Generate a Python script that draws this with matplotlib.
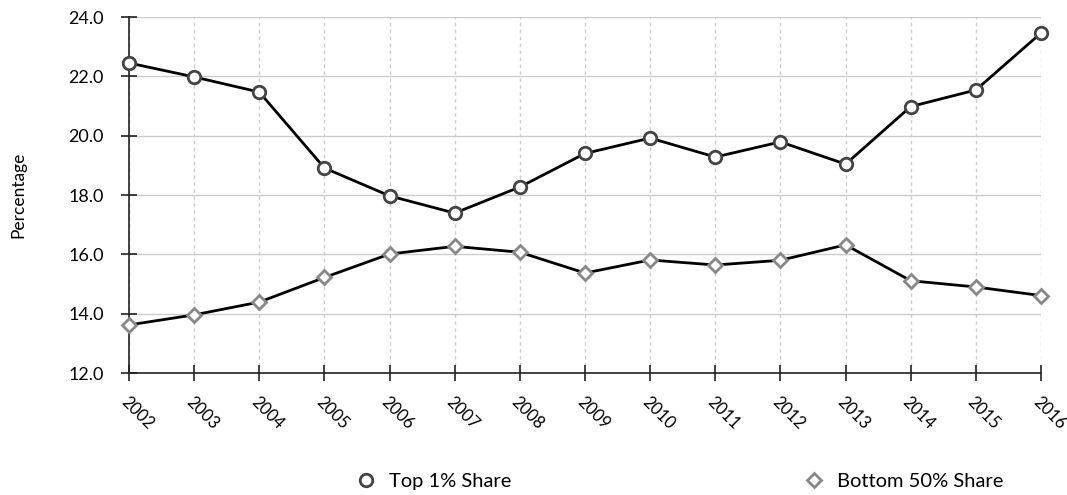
import matplotlib
matplotlib.use("Agg")
import matplotlib.pyplot as plt

years = [2002, 2003, 2004, 2005, 2006, 2007, 2008, 2009, 2010, 2011, 2012, 2013, 2014, 2015, 2016]
top1 = [22.45, 21.98, 21.47, 18.91, 17.97, 17.39, 18.27, 19.40, 19.92, 19.28, 19.79, 19.04, 20.98, 21.54, 23.46]
bottom50 = [13.62, 13.96, 14.39, 15.22, 16.01, 16.27, 16.07, 15.37, 15.81, 15.64, 15.80, 16.32, 15.11, 14.90, 14.61]
yticks = [12, 14, 16, 18, 20, 22, 24]

plt.rcParams['font.family'] = ['Lato', 'DejaVu Sans']

fig = plt.figure(figsize=(10.67, 4.95), dpi=100)
ax = fig.add_axes([129 / 1067, 1 - 373 / 495, (1041 - 129) / 1067, (373 - 17) / 495])

ax.plot(years, top1, color='black', lw=2, marker='o', ms=9, mfc='white',
        mec='#444444', mew=2, label='Top 1% Share', zorder=3, clip_on=False)
ax.plot(years, bottom50, color='black', lw=2, marker='D', ms=7, mfc='white',
        mec='#888888', mew=2, label='Bottom 50% Share', zorder=3, clip_on=False)

ax.set_xlim(2002, 2016)
ax.set_ylim(12, 24)
ax.set_xticks(years)
ax.set_xticklabels([str(y) for y in years], rotation=-45, ha='left', rotation_mode='anchor', fontsize=12)
ax.set_yticks(yticks)
ax.set_yticklabels(['%.1f' % v for v in yticks], fontsize=13)
ax.tick_params(axis='both', direction='inout', length=12, width=1.2, color='#222222')
ax.tick_params(axis='y', pad=12)
ax.tick_params(axis='x', pad=9)

ax.grid(axis='y', color='#cccccc', lw=1)
ax.grid(axis='x', color='#cccccc', lw=1, ls=(0, (2.5, 2.5)))
ax.set_axisbelow(True)
for s in ['top', 'right']:
    ax.spines[s].set_visible(False)
ax.spines['left'].set_color('#222222')
ax.spines['bottom'].set_color('#222222')
ax.spines['left'].set_linewidth(1.2)
ax.spines['bottom'].set_linewidth(1.2)

ax.set_ylabel('Percentage', fontsize=12.5)
ax.yaxis.set_label_coords(-0.112, 0.5)

leg = fig.legend(loc='center', bbox_to_anchor=(0.636, 1 - 481 / 495), ncol=2, frameon=False,
                 fontsize=14.5, columnspacing=14.4, handlelength=1.2, handletextpad=0.55)
for h in leg.legend_handles:
    h.set_linestyle('none')

fig.savefig('out.png', dpi=100)
